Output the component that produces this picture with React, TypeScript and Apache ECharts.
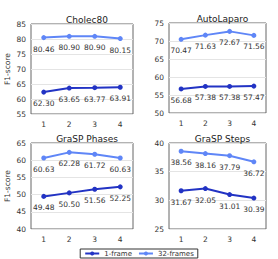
import React, { useEffect, useRef } from "react";
import * as echarts from "echarts";

const categories = ["1", "2", "3", "4"];
const titles = ["Cholec80", "AutoLaparo", "GraSP Phases", "GraSP Steps"];
const oneFrame = [
  [62.3, 63.65, 63.77, 63.91],
  [56.68, 57.38, 57.38, 57.47],
  [49.48, 50.5, 51.56, 52.25],
  [31.67, 32.05, 31.01, 30.39],
];
const thirtyTwoFrames = [
  [80.46, 80.9, 80.9, 80.15],
  [70.47, 71.63, 72.67, 71.56],
  [60.63, 62.28, 61.72, 60.63],
  [38.56, 38.16, 37.79, 36.72],
];
const yMins = [55, 50, 40, 25];
const yMaxs = [85, 75, 65, 40];

const C1 = "#2233c4";
const C32 = "#5f86f7";

export default function App() {
  const ref = useRef<HTMLDivElement>(null);
  useEffect(() => {
    document.body.style.margin = "0";
    const chart = echarts.init(ref.current!, null, { renderer: "svg" });
    const grids = [
      { left: 31, top: 24, width: 102, height: 90 },
      { left: 169, top: 23, width: 97, height: 90 },
      { left: 31, top: 143, width: 102, height: 86 },
      { left: 169, top: 143, width: 97, height: 86 },
    ];
    const font = "DejaVu Sans";
    const series: any[] = [];
    for (let i = 0; i < 4; i++) {
      const label = {
        show: true,
        position: "bottom",
        distance: 5,
        fontSize: 7.5,
        fontFamily: font,
        color: "#333",
        formatter: (p: any) => p.value.toFixed(2),
      };
      series.push({
        name: "1-frame",
        type: "line",
        xAxisIndex: i,
        yAxisIndex: i,
        data: oneFrame[i],
        symbol: "circle",
        symbolSize: 5,
        lineStyle: { width: 2, color: C1 },
        itemStyle: { color: C1 },
        label,
      });
      series.push({
        name: "32-frames",
        type: "line",
        xAxisIndex: i,
        yAxisIndex: i,
        data: thirtyTwoFrames[i],
        symbol: "circle",
        symbolSize: 5,
        lineStyle: { width: 2, color: C32 },
        itemStyle: { color: C32 },
        label,
      });
    }
    chart.setOption({
      animation: false,
      title: grids.map((g, i) => ({
        text: titles[i],
        left: g.left + g.width / 2,
        top: g.top - 14,
        textAlign: "center",
        textStyle: { fontSize: 9, fontWeight: "normal", fontFamily: font, color: "#222" },
      })),
      legend: {
        bottom: 1,
        left: "center",
        itemWidth: 14,
        itemHeight: 5,
        itemGap: 6,
        padding: [1, 4],
        borderColor: "#333",
        borderWidth: 1,
        borderRadius: 0,
        textStyle: { fontSize: 7, fontFamily: font, color: "#333" },
        data: ["1-frame", "32-frames"],
      },
      grid: grids.map((g) => ({ ...g, show: true, borderColor: "#666", borderWidth: 1 })),
      xAxis: grids.map((_, i) => ({
        type: "category",
        gridIndex: i,
        data: categories,
        boundaryGap: true,
        axisLine: { show: false },
        axisTick: { show: false },
        axisLabel: { fontSize: 7.5, fontFamily: font, color: "#333", margin: 6 },
      })),
      yAxis: grids.map((_, i) => ({
        type: "value",
        gridIndex: i,
        min: yMins[i],
        max: yMaxs[i],
        interval: 5,
        name: i % 2 === 0 ? "F1-score" : "",
        nameLocation: "middle",
        nameGap: 20,
        nameRotate: 90,
        nameTextStyle: { fontSize: 7.5, fontFamily: font, color: "#333" },
        axisLine: { show: false },
        axisTick: { show: false },
        axisLabel: { fontSize: 7.5, fontFamily: font, color: "#333", margin: 5 },
        splitLine: { lineStyle: { color: "#e4e4e4" } },
      })),
      series,
    });
    return () => chart.dispose();
  }, []);
  return <div ref={ref} style={{ width: 278, height: 259 }} />;
}
